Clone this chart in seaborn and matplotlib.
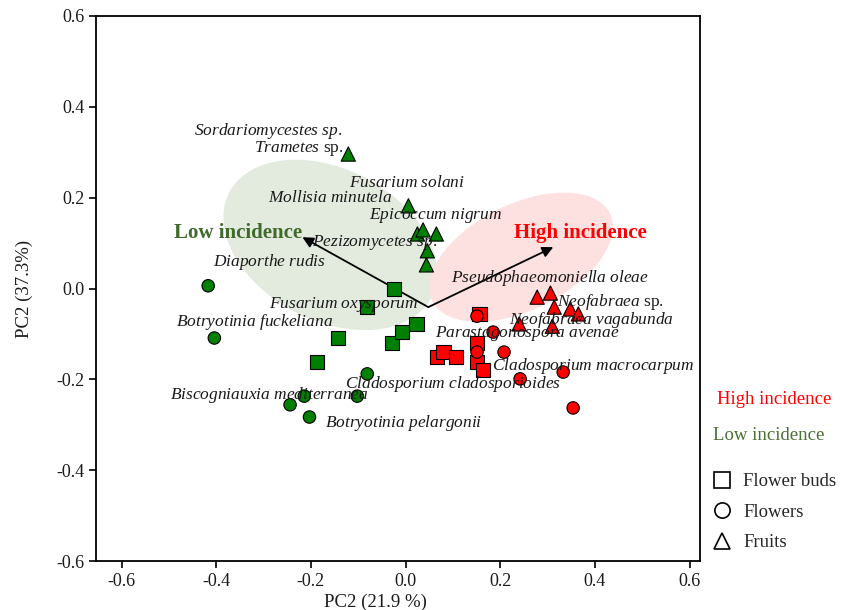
import numpy as np
import pandas as pd
import matplotlib
matplotlib.use("Agg")
import matplotlib.pyplot as plt
import seaborn as sns
from matplotlib.patches import Ellipse
from matplotlib.lines import Line2D

sns.set_style("white")
plt.rcParams["font.family"] = ["Liberation Serif", "DejaVu Serif"]
plt.rcParams["mathtext.fontset"] = "custom"
plt.rcParams["mathtext.rm"] = "Liberation Serif"
plt.rcParams["mathtext.it"] = "Liberation Serif:italic"

# PCA scores
low_buds_x = [-0.024, -0.081, -0.142, -0.187, -0.028, -0.007, 0.023]
low_buds_y = [-0.001, -0.041, -0.109, -0.162, -0.120, -0.096, -0.078]
high_buds_x = [0.156, 0.151, 0.151, 0.164, 0.067, 0.080, 0.107]
high_buds_y = [-0.056, -0.120, -0.162, -0.179, -0.151, -0.140, -0.151]

low_flowers_x = [-0.417, -0.404, -0.244, -0.214, -0.203, -0.102, -0.081]
low_flowers_y = [0.006, -0.109, -0.256, -0.237, -0.283, -0.237, -0.188]
high_flowers_x = [0.151, 0.151, 0.185, 0.208, 0.242, 0.333, 0.354]
high_flowers_y = [-0.061, -0.140, -0.096, -0.140, -0.199, -0.184, -0.263]

low_fruits_x = [-0.121, 0.006, 0.025, 0.037, 0.065, 0.046, 0.044]
low_fruits_y = [0.296, 0.182, 0.120, 0.129, 0.120, 0.083, 0.052]
high_fruits_x = [0.278, 0.306, 0.314, 0.348, 0.365, 0.240, 0.310]
high_fruits_y = [-0.019, -0.010, -0.041, -0.045, -0.056, -0.078, -0.083]

# loading arrows
arrow_origin = (0.048, -0.041)
arrow_low = (-0.218, 0.113)
arrow_high = (0.312, 0.091)

# group ellipses: centre x, centre y, width, height, angle
ell_low = (-0.159, 0.096, 0.486, 0.330, -30)
ell_high = (0.244, 0.069, 0.422, 0.231, 28)

# species labels: text, x, y, horizontal alignment
species = [
    ("$\\mathit{Sordariomycestes\\ sp.}$", -0.134, 0.347, "right"),
    ("$\\mathit{Trametes}$ sp.", -0.132, 0.309, "right"),
    ("$\\mathit{Mollisia\\ minutela}$", -0.290, 0.199, "left"),
    ("$\\mathit{Fusarium\\ solani}$", -0.119, 0.232, "left"),
    ("$\\mathit{Epicoccum\\ nigrum}$", -0.077, 0.160, "left"),
    ("$\\mathit{Pezizomycetes\\ sp.}$", -0.197, 0.102, "left"),
    ("$\\mathit{Diaporthe\\ rudis}$", -0.406, 0.058, "left"),
    ("$\\mathit{Fusarium\\ oxysporum}$", 0.027, -0.036, "right"),
    ("$\\mathit{Botryotinia\\ fuckeliana}$", -0.153, -0.074, "right"),
    ("$\\mathit{Biscogniauxia\\ mediterranea}$", -0.497, -0.234, "left"),
    ("$\\mathit{Botryotinia\\ pelargonii}$", -0.170, -0.296, "left"),
    ("$\\mathit{Cladosporium\\ cladosporioides}$", -0.127, -0.210, "left"),
    ("$\\mathit{Cladosporium\\ macrocarpum}$", 0.183, -0.171, "left"),
    ("$\\mathit{Parastagonospora\\ avenae}$", 0.063, -0.098, "left"),
    ("$\\mathit{Neofabraea\\ vagabunda}$", 0.219, -0.069, "left"),
    ("$\\mathit{Neofabraea}$ sp.", 0.320, -0.030, "left"),
    ("$\\mathit{Pseudophaeomoniella\\ oleae}$", 0.097, 0.023, "left"),
]

green = "#007f00"
red = "#ff0000"

rows = []
for inc, organ, xs, ys in [
    ("Low", "Flower buds", low_buds_x, low_buds_y),
    ("High", "Flower buds", high_buds_x, high_buds_y),
    ("Low", "Flowers", low_flowers_x, low_flowers_y),
    ("High", "Flowers", high_flowers_x, high_flowers_y),
    ("Low", "Fruits", low_fruits_x, low_fruits_y),
    ("High", "Fruits", high_fruits_x, high_fruits_y),
]:
    for x, y in zip(xs, ys):
        rows.append({"pc1": x, "pc2": y, "incidence": inc, "organ": organ})
df = pd.DataFrame(rows)

fig = plt.figure(figsize=(8.43, 6.10), dpi=100)
ax = fig.add_axes([96 / 843, 1 - 561 / 610, 604 / 843, 545 / 610])

for (cx, cy, w, h, a), col in [(ell_low, "#e3ebdf"), (ell_high, "#fde0e0")]:
    ax.add_patch(Ellipse((cx, cy), w, h, angle=a, facecolor=col,
                         edgecolor="none", zorder=0))

for tip in [arrow_low, arrow_high]:
    ax.annotate("", xy=tip, xytext=arrow_origin,
                arrowprops=dict(arrowstyle="-|>", color="black", lw=1.3,
                                mutation_scale=16, shrinkA=0, shrinkB=0),
                zorder=2)

sns.scatterplot(data=df, x="pc1", y="pc2", hue="incidence", style="organ",
                size="organ",
                palette={"Low": green, "High": red},
                markers={"Flower buds": "s", "Flowers": "o", "Fruits": "^"},
                sizes={"Flower buds": 105, "Flowers": 80, "Fruits": 105},
                edgecolor="black", linewidth=0.8, legend=False, ax=ax, zorder=3)

for txt, x, y, ha in species:
    ax.text(x, y, txt, ha=ha, va="center", fontsize=12.5, color="#1a1a1a", zorder=4)

ax.text(arrow_low[0], 0.122, "Low incidence", ha="right", va="center",
        fontsize=15, fontweight="bold", color="#3f6a2a", zorder=4)
ax.text(0.230, 0.122, "High incidence", ha="left", va="center",
        fontsize=15, fontweight="bold", color=red, zorder=4)

ax.set_xlim(-0.654, 0.622)
ax.set_ylim(-0.6, 0.6)
ax.set_xticks(np.arange(-0.6, 0.61, 0.2))
ax.set_yticks(np.arange(-0.6, 0.61, 0.2))
ax.set_xticklabels([f"{v:.1f}" for v in np.arange(-0.6, 0.61, 0.2)])
ax.set_yticklabels([f"{v:.1f}" for v in np.arange(-0.6, 0.61, 0.2)])
ax.tick_params(bottom=True, left=True, direction="out", length=5, width=1.2,
               color="black", labelsize=13, labelcolor="#1a1a1a")
for sp in ax.spines.values():
    sp.set_color("black")
    sp.set_linewidth(1.3)

ax.set_xlabel("PC2 (21.9 %)", fontsize=13.5, color="#1a1a1a")
ax.set_ylabel("PC2 (37.3%)", fontsize=13.5, color="#1a1a1a")
ax.xaxis.set_label_coords(0.462, -0.06)
ax.yaxis.set_label_coords(-0.105, 0.5)

fig.text(717 / 843, 1 - 400 / 610, "High incidence", color=red,
         fontsize=13.5, va="center")
fig.text(713 / 843, 1 - 435 / 610, "Low incidence", color="#4a7035",
         fontsize=13.5, va="center")

handles = [Line2D([], [], marker=m, ls="none", mfc="white", mec="black",
                  ms=11, mew=1.2) for m in ["s", "o", "^"]]
fig.legend(handles, ["Flower buds", "Flowers", "Fruits"], loc="upper left",
           bbox_to_anchor=(713 / 843, 1 - 473 / 610), frameon=False,
           fontsize=13.5, handlelength=1.0, handletextpad=0.6,
           labelspacing=0.72, borderaxespad=0, borderpad=0)

fig.savefig("out.png", dpi=100)
